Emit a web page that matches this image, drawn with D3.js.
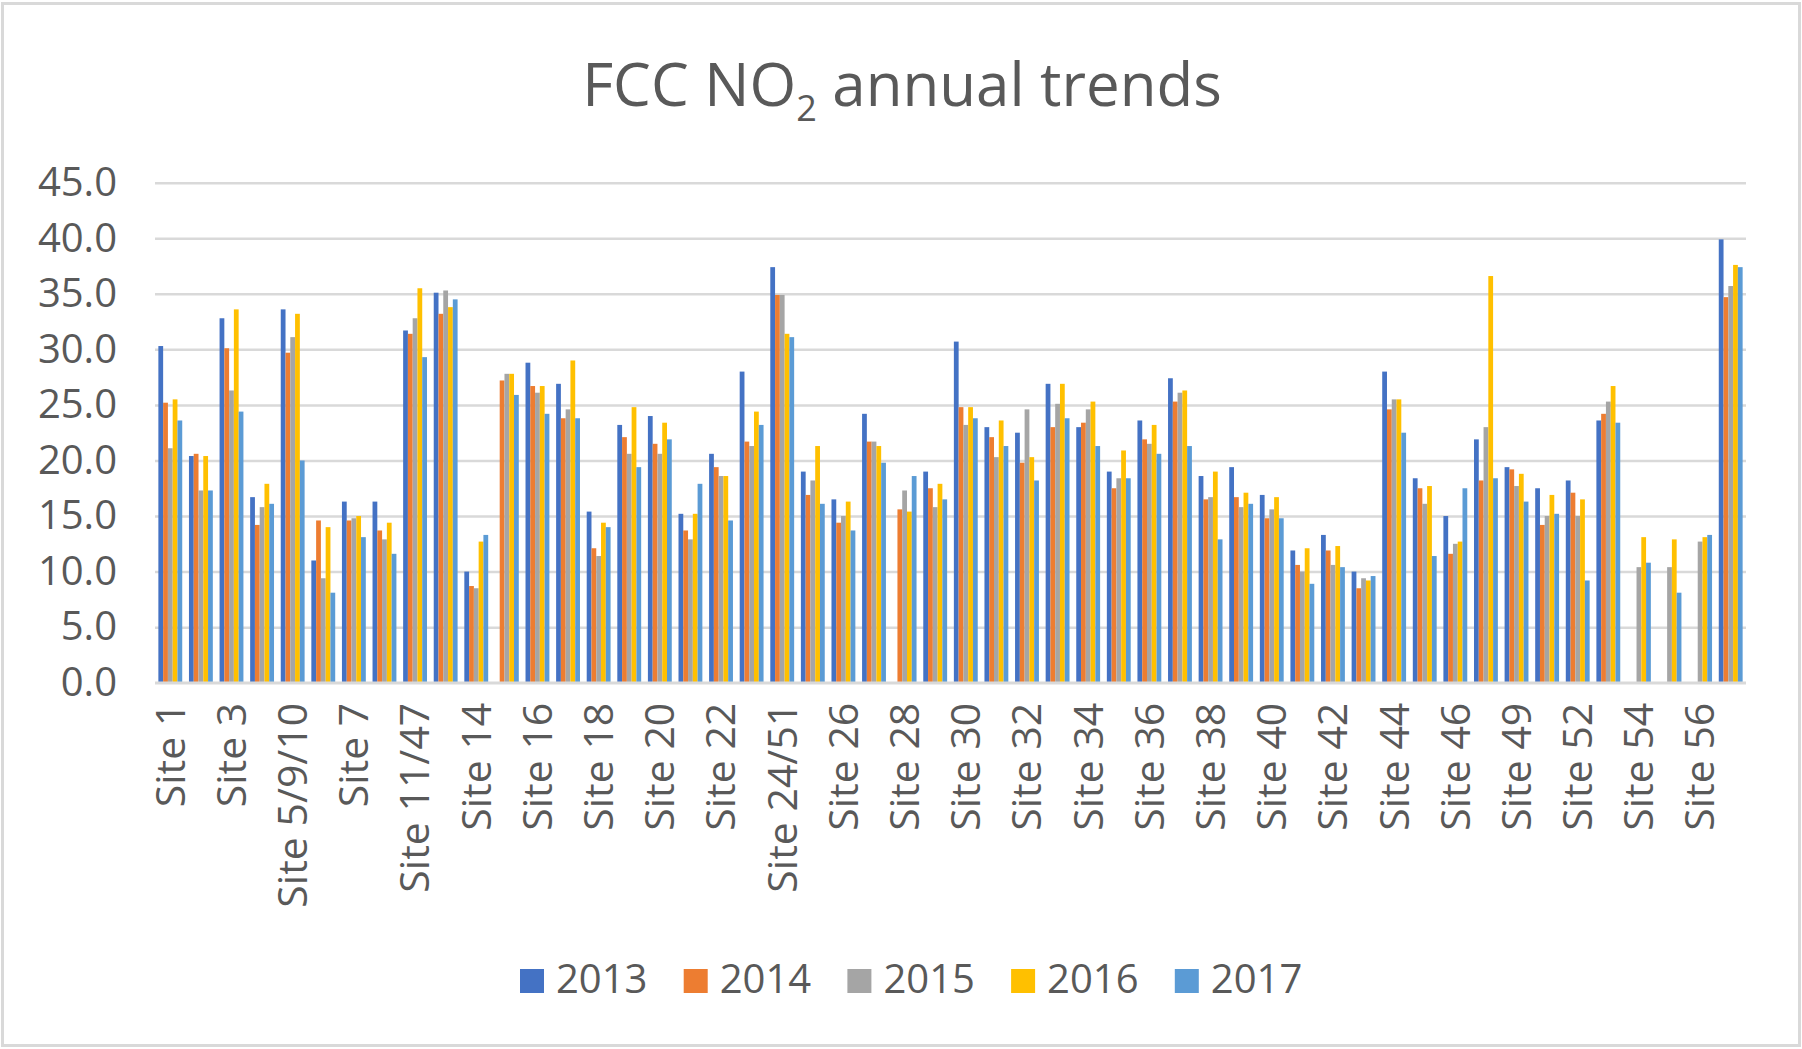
<!DOCTYPE html>
<html>
<head>
<meta charset="utf-8">
<script src="https://d3js.org/d3.v7.min.js"></script>
<style>
    body { margin: 0; background: #fff; }
    text { font-family: "Open Sans", sans-serif; fill: #595959; }
</style>
</head>
<body>
<div id="chart"></div>
<script>
// categories (only every other one gets a label, as in the original)
var sites = ["Site 1", "Site 2", "Site 3", "Site 4", "Site 5/9/10", "Site 6", "Site 7", "Site 8",
             "Site 11/47", "Site 13", "Site 14", "Site 15", "Site 16", "Site 17", "Site 18", "Site 19",
             "Site 20", "Site 21", "Site 22", "Site 23", "Site 24/51", "Site 25", "Site 26", "Site 27",
             "Site 28", "Site 29", "Site 30", "Site 31", "Site 32", "Site 33", "Site 34", "Site 35",
             "Site 36", "Site 37", "Site 38", "Site 39", "Site 40", "Site 41", "Site 42", "Site 43",
             "Site 44", "Site 45", "Site 46", "Site 48", "Site 49", "Site 50", "Site 52", "Site 53",
             "Site 54", "Site 55", "Site 56", "Site 57"];

var years = ["2013", "2014", "2015", "2016", "2017"];

var no2_2013 = [30.3, 20.4, 32.8, 16.7, 33.6, 11.0, 16.3, 16.3, 31.7, 35.1, 10.0, null, 28.8, 26.9, 15.4, 23.2,
                24.0, 15.2, 20.6, 28.0, 37.4, 19.0, 16.5, 24.2, null, 19.0, 30.7, 23.0, 22.5, 26.9, 23.0, 19.0,
                23.6, 27.4, 18.6, 19.4, 16.9, 11.9, 13.3, 10.0, 28.0, 18.4, 15.0, 21.9, 19.4, 17.5, 18.2, 23.6,
                null, null, null, 39.9];
var no2_2014 = [25.2, 20.6, 30.1, 14.2, 29.7, 14.6, 14.6, 13.7, 31.4, 33.2, 8.7, 27.2, 26.7, 23.8, 12.1, 22.1,
                21.5, 13.7, 19.4, 21.7, 34.9, 16.9, 14.4, 21.7, 15.6, 17.5, 24.8, 22.1, 19.8, 23.0, 23.4, 17.5,
                21.9, 25.3, 16.5, 16.7, 14.8, 10.6, 11.9, 8.5, 24.6, 17.5, 11.6, 18.2, 19.2, 14.2, 17.1, 24.2,
                null, null, null, 34.7];
var no2_2015 = [21.1, 17.3, 26.3, 15.8, 31.1, 9.4, 14.8, 12.9, 32.8, 35.3, 8.5, 27.8, 26.1, 24.6, 11.4, 20.6,
                20.6, 12.9, 18.6, 21.3, 34.9, 18.2, 15.0, 21.7, 17.3, 15.8, 23.2, 20.3, 24.6, 25.1, 24.6, 18.4,
                21.5, 26.1, 16.7, 15.8, 15.6, 10.0, 10.6, 9.4, 25.5, 16.1, 12.5, 23.0, 17.7, 15.0, 15.0, 25.3,
                10.4, 10.4, 12.7, 35.7];
var no2_2016 = [25.5, 20.4, 33.6, 17.9, 33.2, 14.0, 15.0, 14.4, 35.5, 33.8, 12.7, 27.8, 26.7, 29.0, 14.4, 24.8,
                23.4, 15.2, 18.6, 24.4, 31.4, 21.3, 16.3, 21.3, 15.4, 17.9, 24.8, 23.6, 20.3, 26.9, 25.3, 20.9,
                23.2, 26.3, 19.0, 17.1, 16.7, 12.1, 12.3, 9.2, 25.5, 17.7, 12.7, 36.6, 18.8, 16.9, 16.5, 26.7,
                13.1, 12.9, 13.1, 37.6];
var no2_2017 = [23.6, 17.3, 24.4, 16.1, 20.0, 8.1, 13.1, 11.6, 29.3, 34.5, 13.3, 25.9, 24.2, 23.8, 14.0, 19.4,
                21.9, 17.9, 14.6, 23.2, 31.1, 16.1, 13.7, 19.8, 18.6, 16.5, 23.8, 21.3, 18.2, 23.8, 21.3, 18.4,
                20.6, 21.3, 12.9, 16.1, 14.8, 8.9, 10.4, 9.6, 22.5, 11.4, 17.5, 18.4, 16.3, 15.2, 9.2, 23.4,
                10.8, 8.1, 13.3, 37.4];

var yTicks = [0, 5, 10, 15, 20, 25, 30, 35, 40, 45];

var colours = ["#4472c4", "#ed7d31", "#a5a5a5", "#ffc000", "#5b9bd5"];

var series = [no2_2013, no2_2014, no2_2015, no2_2016, no2_2017];

var width = 1802,
    height = 1049;

var margin = {top: 182.7, right: 56, bottom: 366.3, left: 155};

var svg = d3.select("#chart")
            .append("svg")
                .attr("width", width)
                .attr("height", height);

// outer chart border
svg.append("rect")
       .attr("x", 2.5)
       .attr("y", 3.5)
       .attr("width", width - 5)
       .attr("height", height - 7)
       .style("fill", "#fff")
       .style("stroke", "#d9d9d9")
       .style("stroke-width", 3);

var x = d3.scaleBand()
          .domain(sites)
          .range([margin.left, width - margin.right])
          .paddingInner(0.22)
          .paddingOuter(0.11);

var xYear = d3.scaleBand()
              .domain(years)
              .range([0, x.bandwidth()]);

var y = d3.scaleLinear()
          .domain([0, 45])
          .range([height - margin.bottom, margin.top]);

// gridlines + y labels
var yAxis = d3.axisLeft(y)
              .tickValues(yTicks)
              .tickFormat(d3.format(".1f"))
              .tickSize(-(width - margin.left - margin.right))
              .tickPadding(38);

var gy = svg.append("g")
                .attr("transform", "translate(" + margin.left + ",0)")
                .call(yAxis);

gy.select(".domain").remove();
gy.selectAll(".tick line")
      .style("stroke", "#d9d9d9")
      .style("stroke-width", 2.5);
gy.selectAll(".tick text")
      .style("font-size", "40px")
      .style("fill", "#595959");

// bars
var groups = svg.append("g")
                .selectAll("g")
                .data(sites)
                .join("g")
                    .attr("transform", d => "translate(" + x(d) + ",0)");

groups.selectAll("rect")
      .data((d, i) => years.map((yr, j) => ({year: yr, value: series[j][i], colour: colours[j]})))
      .join("rect")
          .filter(d => d.value != null)
          .attr("x", d => xYear(d.year))
          .attr("y", d => y(d.value))
          .attr("width", xYear.bandwidth())
          .attr("height", d => y(0) - y(d.value))
          .style("fill", d => d.colour);

// x axis line + rotated labels
var xAxis = d3.axisBottom(x)
              .tickSize(0)
              .tickFormat((d, i) => i % 2 === 0 ? d : "");

var gx = svg.append("g")
                .attr("transform", "translate(0," + y(0) + ")")
                .call(xAxis);

gx.select(".domain")
      .attr("d", "M" + margin.left + ",0H" + (width - margin.right))
      .style("stroke", "#d9d9d9")
      .style("stroke-width", 2.5);

gx.selectAll(".tick text")
      .attr("transform", "rotate(-90)")
      .attr("x", -20)
      .attr("y", 0)
      .attr("dy", "0.35em")
      .style("text-anchor", "end")
      .style("font-size", "41px")
      .style("fill", "#595959");

// title
var title = svg.append("text")
                   .attr("x", 902)
                   .attr("y", 106)
                   .style("text-anchor", "middle")
                   .style("font-size", "60px");

title.append("tspan").text("FCC NO");
title.append("tspan")
         .attr("dy", 15)
         .style("font-size", "36px")
         .text("2");
title.append("tspan")
         .attr("dy", -15)
         .text(" annual trends");

// legend
var legend = svg.append("g")
                .selectAll("g")
                .data(years)
                .join("g")
                    .attr("transform", (d, i) => "translate(" + (520 + i * 163.7) + ",969)");

legend.append("rect")
      .attr("width", 24)
      .attr("height", 24)
      .style("fill", (d, i) => colours[i]);

legend.append("text")
      .attr("x", 36)
      .attr("y", 24)
      .style("font-size", "40px")
      .text(d => d);
</script>
</body>
</html>
